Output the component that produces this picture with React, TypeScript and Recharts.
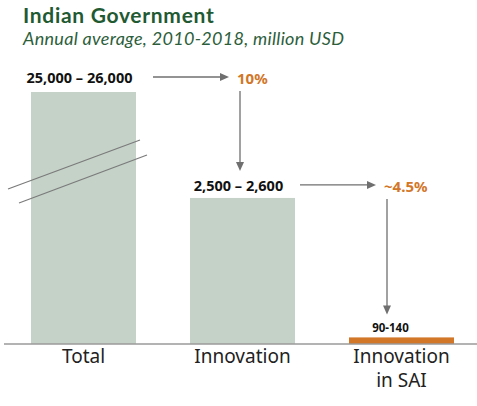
import React from 'react';
import { BarChart, Bar, XAxis, YAxis } from 'recharts';

// values in million USD (annual average 2010-2018)
const categories = ['Total', 'Innovation', 'Innovation\nin SAI'];
const midValues = [25500, 2550, 115];
const rangeLabels = ['25,000 – 26,000', '2,500 – 2,600', '90-140'];
const shareLabels = ['', '10%', '~4.5%'];
const axisBreak = 4400; // Total bar is cut off here (broken axis)

const GREEN = '#c5d2c8';
const ORANGE = '#d27628';
const ARROW = '#6f6f6f';
const TITLE = '#1f5a33';
const FONT = '"Noto Sans", "Open Sans", sans-serif';
const HEAD_FONT = 'Lato, "Noto Sans", sans-serif';

const data = categories.map((name, i) => ({
  name,
  value: Math.min(midValues[i], axisBreak),
  range: rangeLabels[i],
  share: shareLabels[i],
}));

const labelOffset = (i: number) => (i === 0 ? 9 : i === 1 ? 7 : 5);

// bar plus its value label, and the arrow + share coming from the previous bar
const AnnotatedBar = (props: any) => {
  const { x, y, width, height, index } = props;
  const base = y + height;
  const perUnit = height / data[index].value;
  const cx = x + width / 2;
  const small = index === 2;
  const labelBase = y - labelOffset(index);
  const labelCap = small ? 8 : 10;

  let arrows = null;
  if (index > 0) {
    const prevTop = base - data[index - 1].value * perUnit;
    const prevBase = prevTop - labelOffset(index - 1);
    const ax = cx + (small ? -14.5 : -2.5);
    const hy = prevBase - 6;
    const vTip = labelBase - labelCap - 10;
    arrows = (
      <g>
        <line x1={ax - 87} y1={hy} x2={ax - 19} y2={hy} stroke={ARROW} strokeWidth={1.3} />
        <polygon points={`${ax - 11},${hy} ${ax - 20},${hy - 4} ${ax - 20},${hy + 4}`} fill={ARROW} />
        <text x={ax - 3} y={prevBase + 1} fill={ORANGE} fontSize={15} fontWeight={700} fontFamily={FONT}>
          {data[index].share}
        </text>
        <line x1={ax} y1={prevBase + 8} x2={ax} y2={vTip - 8} stroke={ARROW} strokeWidth={1.3} />
        <polygon points={`${ax},${vTip} ${ax - 4},${vTip - 9} ${ax + 4},${vTip - 9}`} fill={ARROW} />
      </g>
    );
  }

  return (
    <g>
      <rect x={x} y={y} width={width} height={height} fill={small ? ORANGE : GREEN} />
      {index === 0 && (
        <g stroke="#7a7a7a" strokeWidth={1.2}>
          <line x1={x - 23} y1={base - 155} x2={x + width + 4} y2={base - 204} />
          <line x1={x - 12} y1={base - 141} x2={x + width + 11} y2={base - 189} />
        </g>
      )}
      <text
        x={cx + (small ? -11 : -4)}
        y={labelBase}
        textAnchor="middle"
        fill="#111"
        fontSize={small ? 11.5 : 14.5}
        fontWeight={700}
        fontFamily={FONT}
      >
        {data[index].range}
      </text>
      {arrows}
    </g>
  );
};

const CategoryTick = (props: any) => {
  const { x, y, payload } = props;
  const lines = String(payload.value).split('\n');
  return (
    <g>
      {lines.map((line, i) => (
        <text
          key={i}
          x={x}
          y={y + 11 + i * 24}
          textAnchor="middle"
          fill="#222"
          fontSize={19}
          fontFamily={FONT}
        >
          {line}
        </text>
      ))}
    </g>
  );
};

const App: React.FC = () => {
  return (
    <div style={{ position: 'absolute', left: 0, top: 0, width: 477, height: 406, background: '#fff', fontFamily: FONT }}>
      <svg width={477} height={56} style={{ position: 'absolute', left: 0, top: 0 }}>
        <text x={23} y={23.3} fontFamily={HEAD_FONT} fontSize={21} fontWeight={700} fill={TITLE} letterSpacing={0.7}>
          Indian Government
        </text>
        <text x={23} y={45} fontFamily={HEAD_FONT} fontSize={18} fontStyle="italic" fill="#2c5e3b" letterSpacing={0.3}>
          Annual average, 2010-2018, million USD
        </text>
      </svg>
      <div style={{ position: 'absolute', left: 0, top: 0 }}>
        <BarChart
          width={477}
          height={406}
          data={data}
          margin={{ top: 92, right: -4, bottom: 0, left: 4 }}
          barCategoryGap={0}
        >
          <XAxis
            dataKey="name"
            height={62}
            axisLine={{ stroke: '#9a9a9a', strokeWidth: 1.3 }}
            tickLine={false}
            tick={<CategoryTick />}
            interval={0}
          />
          <YAxis hide domain={[0, axisBreak]} />
          <Bar dataKey="value" barSize={105} shape={<AnnotatedBar />} isAnimationActive={false} />
        </BarChart>
      </div>
    </div>
  );
};

export default App;
